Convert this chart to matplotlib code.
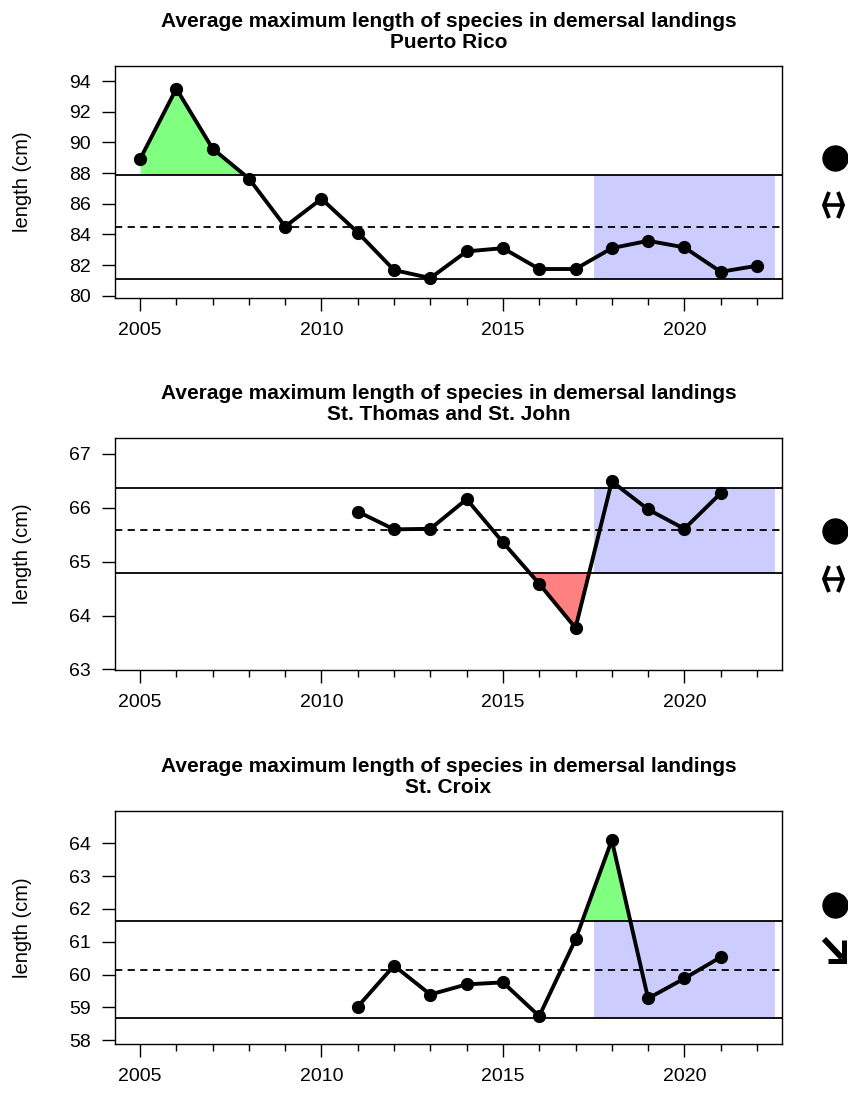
import matplotlib.pyplot as plt
from matplotlib.lines import Line2D
import numpy as np

plt.rcParams['font.family'] = ['Liberation Sans', 'DejaVu Sans']

# Puerto Rico
yr_pr = [2005, 2006, 2007, 2008, 2009, 2010, 2011, 2012, 2013, 2014, 2015,
         2016, 2017, 2018, 2019, 2020, 2021, 2022]
len_pr = [88.90, 93.50, 89.59, 87.64, 84.51, 86.32, 84.12, 81.67, 81.15, 82.89,
          83.10, 81.74, 81.74, 83.10, 83.58, 83.15, 81.56, 81.95]
# St. Thomas and St. John
yr_stt = [2011, 2012, 2013, 2014, 2015, 2016, 2017, 2018, 2019, 2020, 2021]
len_stt = [65.93, 65.60, 65.61, 66.16, 65.36, 64.59, 63.77, 66.49, 65.97, 65.61, 66.27]
# St. Croix
yr_stx = [2011, 2012, 2013, 2014, 2015, 2016, 2017, 2018, 2019, 2020, 2021]
len_stx = [59.02, 60.27, 59.39, 59.70, 59.76, 58.73, 61.07, 64.10, 59.27, 59.88, 60.53]

# mean, mean +/- 1 sd
ref_pr = [84.45, 87.90, 81.06]
ref_stt = [65.58, 66.36, 64.79]
ref_stx = [60.15, 61.62, 58.68]

subtitles = ['Puerto Rico', 'St. Thomas and St. John', 'St. Croix']
yticks = [[80, 82, 84, 86, 88, 90, 92, 94], [63, 64, 65, 66, 67],
          [58, 59, 60, 61, 62, 63, 64]]
ylims = [(79.85, 94.98), (62.99, 67.29), (57.88, 64.99)]
trend = ['flat', 'flat', 'down']

series = [(yr_pr, len_pr, ref_pr), (yr_stt, len_stt, ref_stt), (yr_stx, len_stx, ref_stx)]

fig = plt.figure(figsize=(8.48, 10.96), dpi=100)
W, H = 848.0, 1096.0
boxes = [(66, 298), (438.3, 670), (811, 1044)]
left, right = 115 / W, 782 / W
sym_y = [(157.5, 205), (531, 579), (904.5, 950)]


def px(x, y):
    return x / W, 1 - y / H


def seg(pts, lw):
    xs, ys = zip(*[px(a, b) for a, b in pts])
    fig.add_artist(Line2D(xs, ys, color='black', lw=lw, transform=fig.transFigure,
                          solid_capstyle='butt', solid_joinstyle='miter'))


for i, (yrs, vals, ref) in enumerate(series):
    top, bot = boxes[i]
    ax = fig.add_axes([left, 1 - bot / H, right - left, (bot - top) / H])
    yrs = np.array(yrs, dtype=float)
    vals = np.array(vals)
    mean, hi, lo = ref

    ax.fill_between([2017.5, 2022.5], lo, hi, color='#CCCCFF', lw=0, zorder=1)
    ax.fill_between(yrs, vals, hi, where=vals > hi, interpolate=True,
                    color='#80FF80', lw=0, zorder=2)
    ax.fill_between(yrs, vals, lo, where=vals < lo, interpolate=True,
                    color='#FF8080', lw=0, zorder=2)
    ax.axhline(hi, color='black', lw=1.3, zorder=3)
    ax.axhline(lo, color='black', lw=1.3, zorder=3)
    ax.axhline(mean, color='black', lw=1.3, ls=(0, (4, 3)), zorder=3)
    ax.plot(yrs, vals, color='black', lw=2.8, marker='o', ms=8.5, zorder=4)

    ax.set_xlim(2004.31, 2022.69)
    ax.set_ylim(*ylims[i])
    ax.set_xticks([2005, 2010, 2015, 2020])
    ax.set_xticks(range(2005, 2023), minor=True)
    ax.set_yticks(yticks[i])
    ax.tick_params(axis='both', which='major', direction='out', length=9.4,
                   width=1, labelsize=14)
    ax.tick_params(axis='x', which='major', pad=8)
    ax.tick_params(axis='y', which='major', pad=8)
    ax.tick_params(axis='x', which='minor', direction='out', length=5, width=1)
    for s in ax.spines.values():
        s.set_linewidth(1)
    ax.set_ylabel('length (cm)', fontsize=14.5)
    ax.yaxis.set_label_coords(-0.125, 0.5)
    ax.set_title('Average maximum length of species in demersal landings\n' + subtitles[i],
                 fontsize=15, fontweight='bold', pad=13, linespacing=1.12)

    # status markers at the right edge
    cy, ay = sym_y[i]
    fig.add_artist(Line2D([835 / W], [1 - cy / H], marker='o', ms=18,
                          color='black', transform=fig.transFigure))
    if trend[i] == 'flat':
        seg([(824, ay), (843, ay)], 2.6)
        seg([(829, ay - 13), (824, ay), (829, ay + 13)], 2.8)
        seg([(838, ay - 13), (843, ay), (838, ay + 13)], 2.8)
    else:
        seg([(824, ay - 11), (842, ay + 8)], 4.2)
        seg([(844, ay - 10), (844, ay + 11), (828, ay + 11)], 3.6)

fig.savefig('out.png', dpi=100)
